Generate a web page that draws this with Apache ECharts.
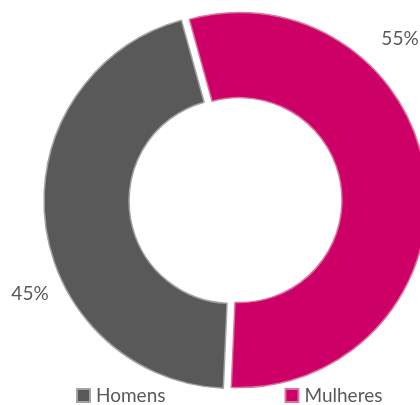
<!DOCTYPE html>
<html>
<head>
<meta charset="utf-8">
<script src="https://cdn.jsdelivr.net/npm/echarts@6/dist/echarts.min.js"></script>
<style>
html,body{margin:0;padding:0;background:#fff;}
#chart{width:420px;height:405px;}
</style>
</head>
<body>
<div id="chart"></div>
<script>
const categories = ['Mulheres', 'Homens'];
const values = [55, 45];
const legendOrder = ['Homens', 'Mulheres'];
const colors = ['#CC0066', '#595959'];
const borderColors = ['#D9739F', '#A3A3A3'];
const labelPos = [[400, 39], [30, 294]];

const chart = echarts.init(document.getElementById('chart'), null, {renderer: 'canvas'});
const font = 'Lato, "Open Sans", sans-serif';
const total = values.reduce((a, b) => a + b, 0);

chart.setOption({
  animation: false,
  legend: {
    data: legendOrder,
    left: 76,
    top: 386,
    padding: 0,
    itemWidth: 13,
    itemHeight: 13,
    itemGap: 119,
    icon: 'rect',
    selectedMode: false,
    textStyle: {color: '#595959', fontSize: 19, fontFamily: font, lineHeight: 19, padding: [0, 0, 0, 1]}
  },
  graphic: categories.map((c, i) => ({
    type: 'text',
    x: labelPos[i][0],
    y: labelPos[i][1],
    style: {
      text: Math.round(values[i] / total * 100) + '%',
      fill: '#595959',
      font: '19px ' + font,
      align: 'center',
      verticalAlign: 'middle'
    }
  })),
  series: [{
    type: 'pie',
    center: [235.5, 200.5],
    radius: [102.5, 187.5],
    startAngle: 105.5,
    clockwise: true,
    selectedMode: 'multiple',
    selectedOffset: 4,
    emphasis: {disabled: true},
    label: {show: false},
    labelLine: {show: false},
    data: categories.map((c, i) => ({
      name: c,
      value: values[i],
      selected: true,
      itemStyle: {color: colors[i], borderColor: borderColors[i], borderWidth: 1.5}
    }))
  }]
});
</script>
</body>
</html>
